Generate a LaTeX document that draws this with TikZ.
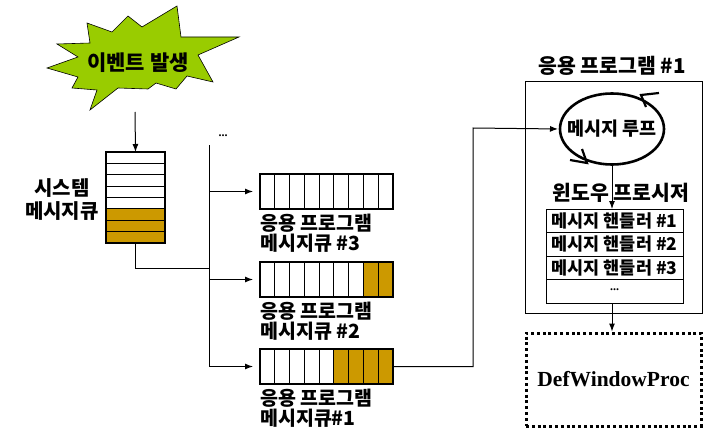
\documentclass[tikz,border=0pt]{standalone}
\usepackage{fontspec}
\setmainfont{Liberation Serif}
\newfontfamily\kr{Noto Sans CJK KR}
\usetikzlibrary{arrows.meta,calc,shapes.geometric}
\definecolor{qgold}{RGB}{204,153,0}
\definecolor{burst}{RGB}{153,204,0}
\begin{document}
\begin{tikzpicture}[x=1pt,y=-1pt,
  kt/.style={font=\kr\bfseries\fontsize{#1}{#1}\selectfont, inner sep=0pt},
  kt/.default=18,
  arr/.style={-{Latex[length=8pt,width=6pt]}, line width=1pt},
  wire/.style={line width=1pt},
  cell/.style={line width=1.1pt},
  qbox/.style={minimum width=#1, inner sep=0pt, outer sep=0pt},
  frame/.style={draw, line width=1pt, inner sep=0pt, outer sep=0pt},
  qlabel/.style={inner sep=0pt, anchor=north west, align=left, font=\kr\bfseries\fontsize{19.5}{20}\selectfont}]
\useasboundingbox (0,0) rectangle (705,428);

% event starburst
\filldraw[fill=burst, draw=black, line width=0.6pt, line join=miter]
  (47,68) -- (78,57) -- (57,44) -- (90,43) -- (87,23) -- (112,32) --
  (128,16) -- (142,27) -- (177,6) -- (181,37) -- (239,37) -- (198,55) --
  (213,82) -- (187,76) -- (176,89) -- (156,83) -- (148,89) -- (118,88) --
  (90,110) -- (97,90) -- (72,88) -- (78,77) -- cycle;
\node[kt=21] (ev) at (138,63) {이벤트 발생};
\coordinate (evb) at (135,112);

% system message queue
\node[qbox=59pt, minimum height=91pt] (sq) at (135.5,197.5) {};
\fill[qgold] ($(sq.south west)!3/8!(sq.north west)$) rectangle (sq.south east);
\foreach \i in {1,...,7}
  \draw[cell] ($(sq.north west)!\i/8!(sq.south west)$) -- ($(sq.north east)!\i/8!(sq.south east)$);
\draw[cell] (sq.south west) rectangle (sq.north east);
\node[inner sep=0pt, align=center, font=\kr\bfseries\fontsize{20}{23}\selectfont] (sql) at (62,199.5) {시스템\\메시지큐};
\draw[arr] (evb) -- (sq.north);

% distribution line
\coordinate (bt) at (209,145);
\coordinate (bb) at (209,367);
\coordinate (jn) at (209,268);
\node[inner sep=0pt, font=\bfseries\fontsize{12}{12}\selectfont] (dots) at (223,136) {...};
\draw[wire] (bt) -- (bb);
\draw[wire] (sq.south) |- (jn);

% application message queues
\node[qbox=133pt, minimum height=35pt] (q3) at (326.5,191.5) {};
\node[qbox=133pt, minimum height=35pt] (q2) at (326.5,279.5) {};
\node[qbox=133pt, minimum height=35pt] (q1) at (326.5,366.5) {};
\foreach \q/\g in {q3/0, q2/2, q1/4} {
  \ifnum\g>0 \fill[qgold] ($(\q.south east)!\g/9!(\q.south west)$) rectangle (\q.north east); \fi
  \foreach \i in {1,...,8}
    \draw[cell] ($(\q.south west)!\i/9!(\q.south east)$) -- ($(\q.north west)!\i/9!(\q.north east)$);
  \draw[cell] (\q.south west) rectangle (\q.north east);
  \draw[arr, shorten >=7pt] (bt |- \q.west) -- (\q.west);
}
\node[qlabel] (l3) at ([yshift=-5pt]q3.south west) {응용 프로그램\\메시지큐 \#3};
\node[qlabel] (l2) at ([yshift=-5pt]q2.south west) {응용 프로그램\\메시지큐 \#2};
\node[qlabel] (l1) at ([yshift=-5pt]q1.south west) {응용 프로그램\\메시지큐\#1};

% application #1
\node[frame, minimum width=177pt, minimum height=231pt] (app) at (613.5,197.5) {};
\node[kt=20.5] (appt) at (612,66) {응용 프로그램 \#1};
\node[draw, ellipse, line width=2.6pt, minimum width=104pt, minimum height=71pt, inner sep=0pt, outer sep=0pt] (loop) at (612,129) {};
\node[kt=18.5] (loopt) at (612,129) {메시지 루프};
\draw[line width=2.2pt, line join=miter]
  ($(loop.center)+(47,-36)$) -- ($(loop.center)+(29,-34)$) -- ($(loop.center)+(34,-22)$);
\draw[line width=2.2pt, line join=miter]
  ($(loop.center)+(-30,20)$) -- ($(loop.center)+(-25,34)$) -- ($(loop.center)+(-42,31)$);
\coordinate (turn) at (473,128);
\draw[arr, shorten >=2pt] (q1.east) -| (turn) -- (loop.west);

\node[kt=20.5] (wp) at (621,193) {윈도우 프로시저};
\node[frame, minimum width=137pt, minimum height=94pt] (hb) at (614.5,256) {};
\foreach \i in {1,2,3}
  \draw[wire] ($(hb.north west)!\i/4!(hb.south west)$) -- ($(hb.north east)!\i/4!(hb.south east)$);
\foreach \i/\t in {1/{메시지 핸들러 \#1}, 2/{메시지 핸들러 \#2}, 3/{메시지 핸들러 \#3}}
  \node[kt=17.5] (h\i) at ($(hb.north)!{(2*\i-1)/8}!(hb.south)$) {\t};
\node[inner sep=0pt, font=\bfseries\fontsize{12}{12}\selectfont] (h4) at ($(hb.north)!7/8!(hb.south)+(0,-2)$) {...};
\draw[arr] (loop.south) -- (loop.south |- hb.north);

% default window procedure
\node[draw, line width=3pt, dash pattern=on 3pt off 2.8pt, minimum width=175pt, minimum height=93pt, inner sep=0pt,
  font=\bfseries\fontsize{21.5}{21.5}\selectfont] (dwp) at (613.5,379.5) {DefWindowProc};
\draw[arr] (hb.south -| loop.south) -- (dwp.north -| loop.south);
\end{tikzpicture}
\end{document}
